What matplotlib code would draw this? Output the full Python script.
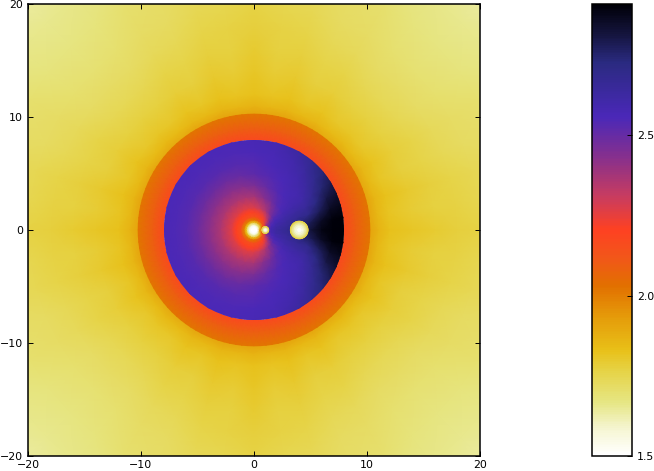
"""Field map on polar cells: outer zone, ring, inner disk, three small bodies."""
import matplotlib
matplotlib.use("Agg")
import matplotlib.pyplot as plt
import numpy as np
from matplotlib.colors import LinearSegmentedColormap, Normalize
from matplotlib.patches import Circle

VMIN, VMAX = 1.5, 2.91

# colormap stops
cmap_levels = [1.5, 1.58, 1.665, 1.76, 1.83, 1.93, 2.03, 2.12, 2.206, 2.31, 2.43, 2.56, 2.73, 2.82, 2.91]
cmap_colors = ["#ffffff", "#f6f6d4", "#e6e684", "#e6d448", "#e8c018", "#e59c0a", "#e27000",
               "#f2561a", "#fe4122", "#c83c60", "#88308c", "#4a28b8", "#2a2a80", "#14143c", "#000008"]

# outer zone, first quadrant (mirrored for the others)
outer_theta = [0, 7.5, 15, 22.5, 30, 37.5, 45, 52.5, 60, 67.5, 75, 82.5, 90]
outer_r = [10.25, 11, 12, 14, 16, 18, 20, 23, 26, 29]
outer_vals = [
    [1.910, 1.865, 1.830, 1.810, 1.795, 1.780, 1.765, 1.745, 1.720, 1.700],
    [1.905, 1.855, 1.815, 1.790, 1.775, 1.765, 1.750, 1.735, 1.710, 1.690],
    [1.910, 1.860, 1.825, 1.800, 1.780, 1.760, 1.745, 1.725, 1.700, 1.680],
    [1.900, 1.850, 1.810, 1.780, 1.760, 1.740, 1.725, 1.710, 1.685, 1.665],
    [1.905, 1.855, 1.820, 1.785, 1.760, 1.735, 1.720, 1.700, 1.675, 1.655],
    [1.890, 1.845, 1.805, 1.770, 1.745, 1.720, 1.700, 1.680, 1.660, 1.640],
    [1.895, 1.850, 1.810, 1.770, 1.740, 1.715, 1.695, 1.675, 1.655, 1.635],
    [1.890, 1.845, 1.805, 1.770, 1.745, 1.720, 1.700, 1.680, 1.660, 1.640],
    [1.905, 1.855, 1.820, 1.785, 1.760, 1.735, 1.720, 1.700, 1.675, 1.655],
    [1.900, 1.850, 1.810, 1.780, 1.760, 1.740, 1.725, 1.710, 1.685, 1.665],
    [1.910, 1.860, 1.825, 1.800, 1.780, 1.760, 1.745, 1.725, 1.700, 1.680],
    [1.905, 1.855, 1.815, 1.790, 1.775, 1.765, 1.750, 1.735, 1.710, 1.690],
    [1.910, 1.865, 1.830, 1.810, 1.795, 1.780, 1.765, 1.745, 1.720, 1.700],
]

# ring between inner disk and outer zone
ring_r = [8.0, 9.0, 10.25]
ring_vals = [2.17, 2.09, 2.02]

# inner disk, upper half (mirrored for the lower half); last column lies under the clip edge
disk_theta = [0, 8, 16, 24, 32, 40, 50, 60, 75, 90, 105, 120, 135, 150, 165, 180]
disk_r = [0.0, 0.3, 0.5, 0.7, 0.9, 1.2, 1.6, 2.0, 3.0, 4.0, 5.0, 6.0, 7.0, 8.0, 8.8]
disk_vals = [
    [1.50, 1.50, 1.90, 2.15, 2.35, 2.55, 2.60, 2.63, 2.68, 2.74, 2.82, 2.89, 2.91, 2.91, 2.91],
    [1.50, 1.50, 1.88, 2.12, 2.32, 2.52, 2.59, 2.62, 2.66, 2.72, 2.78, 2.86, 2.90, 2.91, 2.91],
    [1.50, 1.50, 1.82, 2.06, 2.24, 2.46, 2.56, 2.60, 2.64, 2.67, 2.70, 2.78, 2.86, 2.88, 2.88],
    [1.50, 1.50, 1.76, 2.00, 2.18, 2.40, 2.52, 2.57, 2.61, 2.63, 2.65, 2.72, 2.80, 2.84, 2.84],
    [1.50, 1.50, 1.72, 1.96, 2.14, 2.32, 2.46, 2.53, 2.58, 2.60, 2.61, 2.67, 2.74, 2.79, 2.79],
    [1.50, 1.50, 1.70, 1.94, 2.12, 2.26, 2.38, 2.48, 2.55, 2.58, 2.59, 2.63, 2.69, 2.74, 2.74],
    [1.50, 1.50, 1.68, 1.92, 2.10, 2.21, 2.31, 2.42, 2.52, 2.56, 2.58, 2.60, 2.64, 2.68, 2.68],
    [1.50, 1.50, 1.66, 1.90, 2.08, 2.19, 2.26, 2.36, 2.48, 2.54, 2.56, 2.58, 2.60, 2.63, 2.63],
    [1.50, 1.50, 1.65, 1.88, 2.06, 2.17, 2.23, 2.31, 2.43, 2.50, 2.54, 2.56, 2.57, 2.58, 2.58],
    [1.50, 1.50, 1.64, 1.86, 2.03, 2.16, 2.22, 2.28, 2.38, 2.46, 2.52, 2.54, 2.56, 2.57, 2.57],
    [1.50, 1.50, 1.63, 1.85, 2.02, 2.15, 2.21, 2.27, 2.37, 2.44, 2.50, 2.53, 2.55, 2.56, 2.56],
    [1.50, 1.50, 1.62, 1.84, 2.01, 2.15, 2.21, 2.27, 2.36, 2.43, 2.49, 2.53, 2.55, 2.56, 2.56],
    [1.50, 1.50, 1.62, 1.84, 2.01, 2.15, 2.21, 2.27, 2.36, 2.43, 2.49, 2.53, 2.55, 2.56, 2.56],
    [1.50, 1.50, 1.61, 1.83, 2.00, 2.15, 2.21, 2.27, 2.36, 2.43, 2.49, 2.53, 2.55, 2.56, 2.56],
    [1.50, 1.50, 1.61, 1.83, 2.00, 2.15, 2.21, 2.27, 2.36, 2.43, 2.49, 2.53, 2.55, 2.56, 2.56],
    [1.50, 1.50, 1.61, 1.83, 2.00, 2.15, 2.21, 2.27, 2.36, 2.43, 2.49, 2.53, 2.55, 2.56, 2.56],
]

# small bodies on the x axis: centre, radii, values
big_body_x = 4.0
big_body_r = [0.0, 0.2, 0.5, 0.72, 0.78]
big_body_vals = [1.50, 1.53, 1.62, 1.72, 1.78]
small_body_x = 1.0
small_body_r = [0.0, 0.12, 0.24, 0.3]
small_body_vals = [1.50, 1.56, 1.70, 1.78]

x_ticks = [-20, -10, 0, 10, 20]
y_ticks = [-20, -10, 0, 10, 20]
cbar_ticks = [1.5, 2.0, 2.5]
cbar_labels = ["1.5", "2.0", "2.5"]


def mirrored(theta, vals, quadrant=False):
    # extend a half (or quarter) table of theta rows to the whole circle
    theta = np.asarray(theta, float)
    vals = np.asarray(vals, float)
    if quadrant:
        theta = np.concatenate([theta, 180 - theta[-2::-1]])
        vals = np.vstack([vals, vals[-2::-1]])
    theta = np.concatenate([theta, 360 - theta[-2::-1]])
    vals = np.vstack([vals, vals[-2::-1]])
    return theta, vals


def polar_mesh(ax, theta, r, vals, cx=0.0, **kw):
    tt, rr = np.meshgrid(np.radians(theta), r, indexing="ij")
    return ax.pcolormesh(cx + rr * np.cos(tt), rr * np.sin(tt), vals,
                         shading="gouraud", **kw)


def main():
    plt.rcParams["font.size"] = 7.9
    plt.rcParams["xtick.direction"] = "in"
    plt.rcParams["ytick.direction"] = "in"
    plt.rcParams["axes.linewidth"] = 1.1

    cmap = LinearSegmentedColormap.from_list(
        "field", [((v - VMIN) / (VMAX - VMIN), c) for v, c in zip(cmap_levels, cmap_colors)], N=256)
    norm = Normalize(VMIN, VMAX)
    kw = dict(cmap=cmap, norm=norm)

    W, H = 654, 471
    fig = plt.figure(figsize=(W / 100, H / 100), dpi=100)
    ax = fig.add_axes([28 / W, 1 - 456 / H, 452 / W, 452 / H])

    theta, vals = mirrored(outer_theta, outer_vals, quadrant=True)
    pcm = polar_mesh(ax, theta, outer_r, vals, **kw)

    circle = np.linspace(0, 360, 121)
    polar_mesh(ax, circle, ring_r, np.tile(ring_vals, (121, 1)), **kw)

    theta, vals = mirrored(disk_theta, disk_vals)
    disk = polar_mesh(ax, theta, disk_r, vals, **kw)
    disk.set_clip_path(Circle((0, 0), 8.0, transform=ax.transData))

    polar_mesh(ax, circle, big_body_r, np.tile(big_body_vals, (121, 1)), cx=big_body_x, **kw)
    polar_mesh(ax, circle, small_body_r, np.tile(small_body_vals, (121, 1)), cx=small_body_x, **kw)

    ax.set_xlim(-20, 20)
    ax.set_ylim(-20, 20)
    ax.set_xticks(x_ticks)
    ax.set_yticks(y_ticks)
    ax.tick_params(length=3.6, width=0.7, top=True, right=True)
    ax.tick_params(axis="x", pad=3)
    ax.tick_params(axis="y", pad=3.4)

    cax = fig.add_axes([592 / W, 1 - 456 / H, 40 / W, 452 / H])
    cb = fig.colorbar(pcm, cax=cax)
    cb.set_ticks(cbar_ticks)
    cb.set_ticklabels(cbar_labels)
    cb.ax.tick_params(length=3.6, width=0.7, pad=3.4, direction="in")
    cb.outline.set_linewidth(1.1)

    fig.savefig("out.png", dpi=100)
    plt.close(fig)


if __name__ == "__main__":
    main()
